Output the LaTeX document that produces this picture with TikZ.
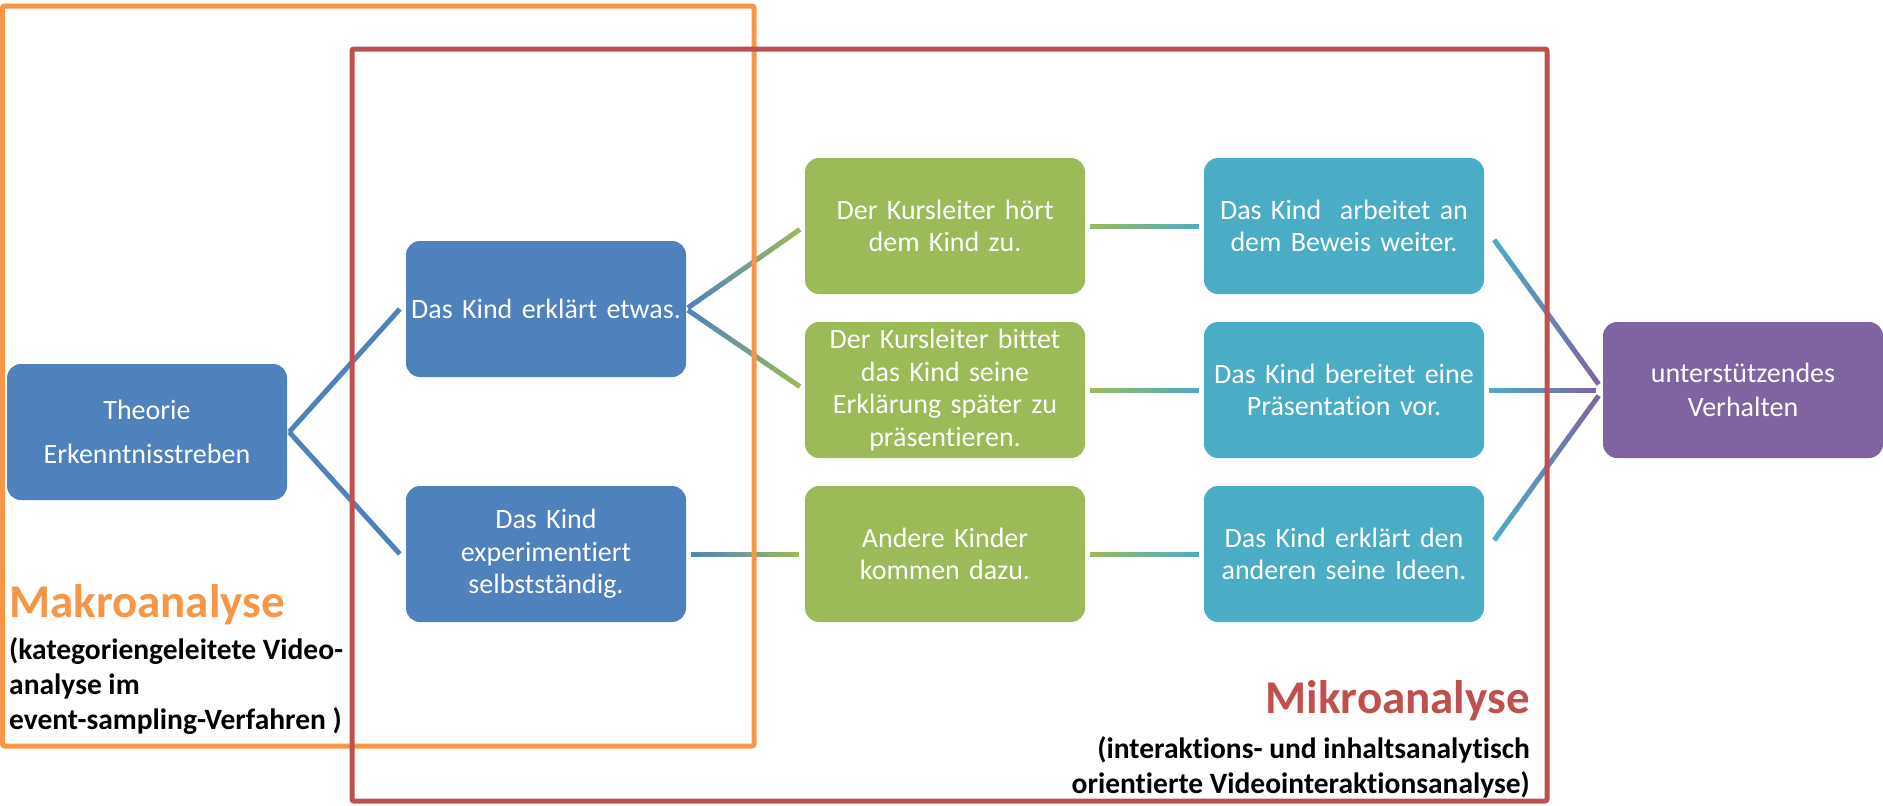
\documentclass[tikz,border=0pt]{standalone}
\usepackage{fontspec}
\setmainfont{Carlito}[Ligatures=NoCommon]
\usepackage{xcolor}
\usepackage{tikz}
\usetikzlibrary{positioning,calc}
\definecolor{kblue}{HTML}{4F81BD}
\definecolor{kgreen}{HTML}{9BBB59}
\definecolor{kteal}{HTML}{4BACC6}
\definecolor{kpurple}{HTML}{8064A2}
\definecolor{korange}{HTML}{F79646}
\definecolor{kred}{HTML}{C0504D}
\tikzset{
    stage/.style={rectangle, rounded corners=14pt, minimum width=280pt, minimum height=136pt,
        text width=276pt, align=center, inner sep=0pt, text=white, font=\fontsize{28}{32.5}\selectfont},
    link/.style={line width=5pt},
    frame/.style={line width=5pt, rounded corners=2pt},
    title text/.style={inner sep=0pt, font=\fontsize{47}{52}\selectfont\bfseries},
    note text/.style={inner sep=0pt, font=\fontsize{29.5}{35}\selectfont\bfseries}
}
% Verbindung mit Farbverlauf: von, nach, Farbe A, Farbe B, Abstand vorn, Abstand hinten
\newcommand{\gradlink}[6]{%
    \coordinate (gA) at ($(#1)!#5!(#2)$);
    \coordinate (gB) at ($(#2)!#6!(#1)$);
    \foreach \i in {0,...,23}{
        \pgfmathsetmacro{\ta}{\i/24}
        \pgfmathsetmacro{\tb}{min((\i+1.1)/24,1)}
        \pgfmathtruncatemacro{\mix}{100*(\i+0.5)/24}
        \draw[link, color=#4!\mix!#3] ($(gA)!\ta!(gB)$) -- ($(gA)!\tb!(gB)$);
    }%
}

\begin{document}
\begin{tikzpicture}[x=1pt, y=-1pt]
    \useasboundingbox (0,0) rectangle (1883,806);

    % Knoten
    \node[stage, fill=kblue, font=\fontsize{28}{44}\selectfont] (theorie) at (147,432) {Theorie\\Erkenntnisstreben};
    \node[stage, fill=kblue] (erklaert) at (546,309) {Das Kind erklärt etwas.};
    \node[stage, fill=kblue] (experiment) at (546,554) {Das Kind\\experimentiert\\selbstständig.};
    \node[stage, fill=kgreen] (hoert) at (945,226) {Der Kursleiter hört\\dem Kind zu.};
    \node[stage, fill=kgreen] (bittet) at (945,390) {Der Kursleiter bittet\\das Kind seine\\Erklärung später zu\\präsentieren.};
    \node[stage, fill=kgreen] (andere) at (945,554) {Andere Kinder\\kommen dazu.};
    \node[stage, fill=kteal] (beweis) at (1344,226) {Das Kind~ arbeitet an\\dem Beweis weiter.};
    \node[stage, fill=kteal] (praes) at (1344,390) {Das Kind bereitet eine\\Präsentation vor.};
    \node[stage, fill=kteal] (ideen) at (1344,554) {Das Kind erklärt den\\anderen seine Ideen.};
    \node[stage, fill=kpurple, font=\fontsize{28}{34}\selectfont] (verhalten) at (1743,390) {unterstützendes\\Verhalten};

    % Verbindungen
    \draw[link, kblue] ([xshift=2pt]theorie.east) -- ([xshift=-6pt]erklaert.west);
    \draw[link, kblue] ([xshift=2pt]theorie.east) -- ([xshift=-6pt]experiment.west);
    \gradlink{erklaert.east}{hoert.west}{kblue}{kgreen}{2pt}{6pt}
    \gradlink{erklaert.east}{bittet.west}{kblue}{kgreen}{2pt}{6pt}
    \gradlink{experiment.east}{andere.west}{kblue}{kgreen}{5pt}{6pt}
    \gradlink{hoert.east}{beweis.west}{kgreen}{kteal}{5pt}{5pt}
    \gradlink{bittet.east}{praes.west}{kgreen}{kteal}{5pt}{5pt}
    \gradlink{andere.east}{ideen.west}{kgreen}{kteal}{5pt}{5pt}
    \gradlink{beweis.east}{verhalten.west}{kteal}{kpurple}{17pt}{7pt}
    \gradlink{praes.east}{verhalten.west}{kteal}{kpurple}{5pt}{7pt}
    \gradlink{ideen.east}{verhalten.west}{kteal}{kpurple}{17pt}{7pt}

    % Rahmen
    \draw[frame, korange] (2.5,6) rectangle (754,746);
    \draw[frame, kred] (352,49) rectangle (1547,801);

    % Beschriftungen
    \node[title text, text=korange, anchor=base west] (makro) at (9,617) {Makroanalyse};
    \node[note text, align=left, anchor=north west] (makrotext) at (9,637.5)
        {(kategoriengeleitete Video-\\analyse im\\event-sampling-Verfahren )};
    \node[title text, text=kred, anchor=base east] (mikro) at (1530,713) {Mikroanalyse};
    \node[note text, align=right, anchor=north east] (mikrotext) at (1530,736.5)
        {(interaktions- und inhaltsanalytisch\\orientierte Videointeraktionsanalyse)};
\end{tikzpicture}
\end{document}
